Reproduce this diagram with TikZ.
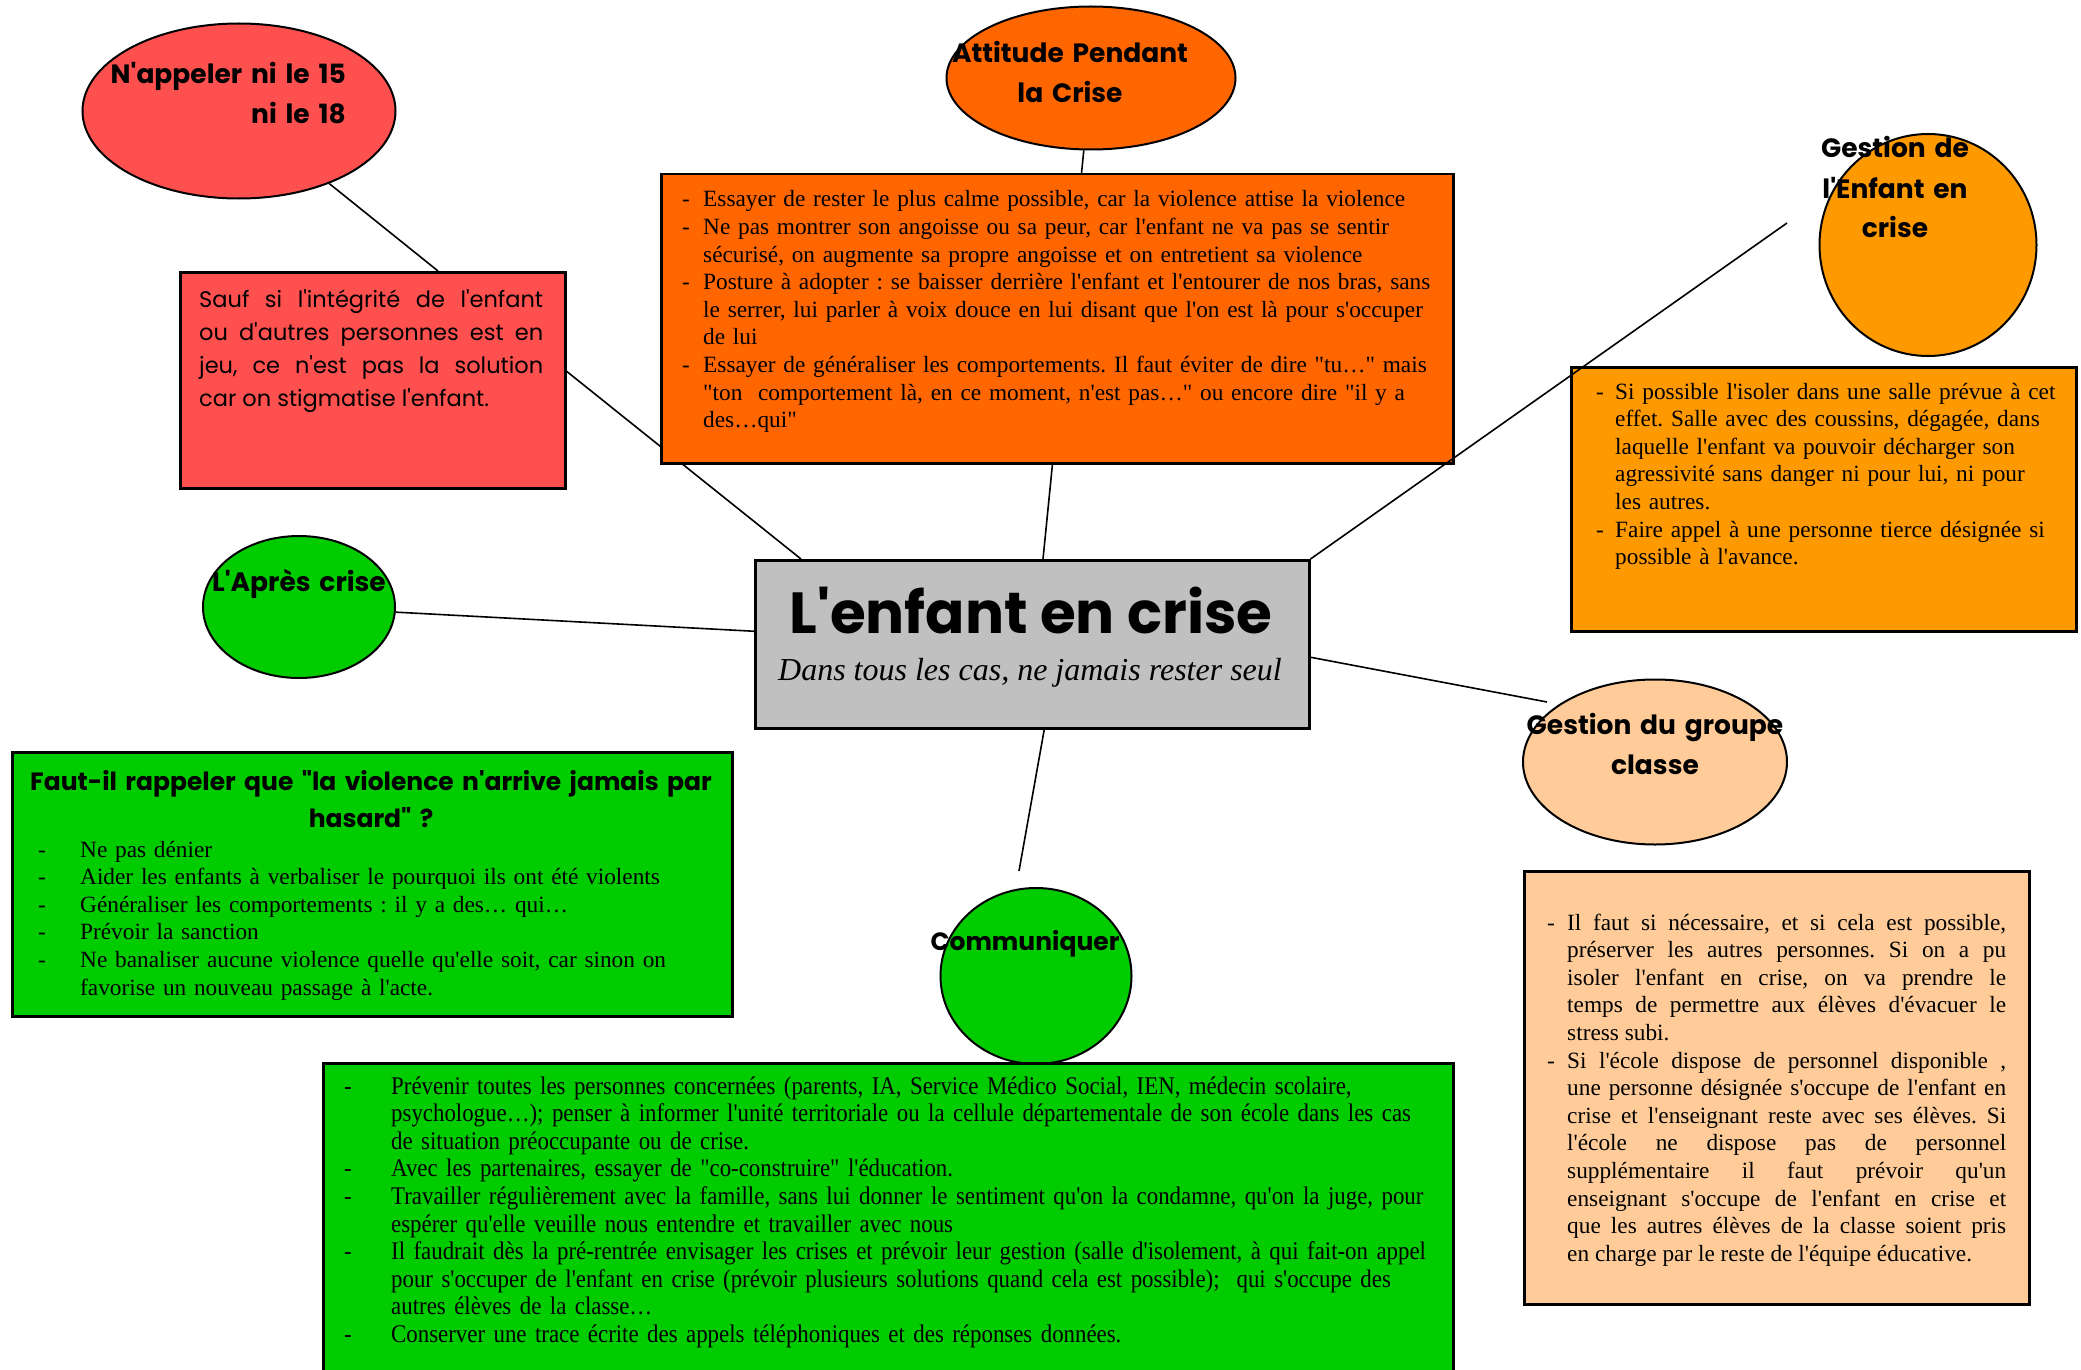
\documentclass[tikz,border=0pt]{standalone}
\usepackage{fontspec}
\newfontfamily\tnr{Liberation Serif}
\newfontfamily\tnrc{Liberation Serif}[FakeStretch=0.9]
\newfontfamily\comic{Poppins}
\usetikzlibrary{calc,shapes.geometric}
\pgfdeclarelayer{bg}
\pgfsetlayers{bg,main}
\definecolor{cred}{HTML}{FF5050}
\definecolor{corange}{HTML}{FF6600}
\definecolor{corangeb}{HTML}{FF9900}
\definecolor{cgreen}{HTML}{00CC00}
\definecolor{cpeach}{HTML}{FFCC99}
\definecolor{cgray}{HTML}{C0C0C0}
\newcommand\dashit[2]{\noindent\hangindent=#1\hangafter=1\makebox[#1][l]{-}#2\par}
\tikzset{
  box/.style={draw=black, line width=2.5pt, inner sep=0pt, anchor=north west},
  oval/.style={ellipse, draw=black, line width=2pt, inner sep=0pt},
  conn/.style={line width=1.6pt, draw=black},
  hd/.style={font=\comic\bfseries\fontsize{26.5}{40}\selectfont, inner sep=0pt, anchor=base, align=center, text width=#1},
  body/.style={font=\tnr\frenchspacing\fontsize{23.3}{27.6}\selectfont, inner sep=0pt, anchor=base west, align=left, text width=#1},
}
\begin{document}
\begin{tikzpicture}[x=1pt,y=-1pt]
\useasboundingbox (0,0) rectangle (2081,1370);
\clip (0,0) rectangle (2081,1370);
% shapes
\node[oval, fill=cred, minimum width=313pt, minimum height=175pt] (e1) at (239,111) {};
\node[box, fill=cred, minimum width=385pt, minimum height=216pt] (b1) at (179,271) {};
\node[oval, fill=corange, minimum width=289pt, minimum height=143pt] (e2) at (1091,78) {};
\node[box, fill=corange, minimum width=792pt, minimum height=289pt] (b2) at (660,173) {};
\node[oval, fill=corangeb, minimum width=217pt, minimum height=222pt] (e3) at (1928,245) {};
\node[box, fill=corangeb, minimum width=505pt, minimum height=264pt] (b3) at (1570,366) {};
\node[box, fill=cgray, minimum width=554pt, minimum height=168pt] (c) at (754,559) {};
\node[oval, fill=cgreen, minimum width=192pt, minimum height=142pt] (e4) at (299,607) {};
\node[box, fill=cgreen, minimum width=720pt, minimum height=264pt] (b4) at (11,751) {};
\node[oval, fill=cpeach, minimum width=264pt, minimum height=165pt] (e5) at (1655,762) {};
\node[box, fill=cpeach, minimum width=505pt, minimum height=433pt] (b5) at (1523,870) {};
\node[oval, fill=cgreen, minimum width=191pt, minimum height=176pt] (e6) at (1036,976) {};
\node[box, fill=cgreen, minimum width=1130pt, minimum height=360pt] (b6) at (322,1062) {};
% free ends
\coordinate (g1end) at (1787,223);
\coordinate (g2end) at (1547,702);
\coordinate (g3end) at (1019,871);
% connectors
\begin{pgfonlayer}{bg}
\draw[conn] (e1) -- ($(b1.north west)+(259,0)$);
\draw[conn] ($(b1.east)+(0,-9)$) -- ($(c.north west)+(47,0)$);
\draw[conn] (e2) -- ($(c.north west)+(289,0)$);
\draw[conn] (e4) -- ($(c.west)+(0,-13)$);
\draw[conn] ($(c.east)+(0,13)$) -- (g2end);
\draw[conn] ($(c.south)+(12,0)$) -- (g3end);
\end{pgfonlayer}
\draw[conn] (c.north east) -- (g1end);
% headings
\node[hd=320pt, anchor=base east, align=right] (t1) at (346,84) {N'appeler ni le 15\\ni le 18};
\node[hd=320pt] (t2) at (1070,63) {Attitude Pendant\\la Crise};
\node[hd=260pt] (t3) at (1895,158) {Gestion de\\l'Enfant en\\crise};
\node[hd=260pt] (t4) at (299,591) {L'Après crise};
\node[hd=320pt] (t5) at (1655,734) {Gestion du groupe\\classe};
\node[hd=260pt, font=\comic\bfseries\fontsize{25}{40}\selectfont] (t6) at (1025,950) {Communiquer};
% center
\node[font=\comic\bfseries\fontsize{58}{66}\selectfont, inner sep=0pt, anchor=base] (title) at (1031,633) {L'enfant en crise};
\node[font=\tnr\itshape\fontsize{32}{38}\selectfont, inner sep=0pt, anchor=base] (sub) at (1030,680) {Dans tous les cas, ne jamais rester seul};
% red box text
\node[font=\comic\frenchspacing\fontsize{22.5}{33}\selectfont, inner sep=0pt, anchor=base west, align=justify, text width=344pt] (tb1) at (199,307) {Sauf si l'intégrité de l'enfant\linebreak ou d'autres personnes est en\linebreak jeu, ce n'est pas la solution\linebreak car on stigmatise l'enfant.};
% orange box text
\node[body=770pt] (tb2) at (682,207) {%
\dashit{21pt}{Essayer de rester le plus calme possible, car la violence attise la violence}%
\dashit{21pt}{Ne pas montrer son angoisse ou sa peur, car l'enfant ne va pas se sentir\newline sécurisé, on augmente sa propre angoisse et on entretient sa violence}%
\dashit{21pt}{Posture à adopter : se baisser derrière l'enfant et l'entourer de nos bras, sans\newline le serrer, lui parler à voix douce en lui disant que l'on est là pour s'occuper\newline de lui}%
\dashit{21pt}{Essayer de généraliser les comportements. Il faut éviter de dire "tu…" mais\newline "ton\ \ comportement là, en ce moment, n'est pas…" ou encore dire "il y a\newline des…qui"}};
% orange box 2 text
\node[body=480pt] (tb3) at (1596,399) {%
\dashit{19pt}{Si possible l'isoler dans une salle prévue à cet\newline effet. Salle avec des coussins, dégagée, dans\newline laquelle l'enfant va pouvoir décharger son\newline agressivité sans danger ni pour lui, ni pour\newline les autres.}%
\dashit{19pt}{Faire appel à une personne tierce désignée si\newline possible à l'avance.}};
% green box (apres)
\node[hd=710pt, font=\comic\bfseries\fontsize{25}{37}\selectfont] (th4) at (371,790) {Faut-il rappeler que "la violence n'arrive jamais par\\hasard" ?};
\node[body=690pt] (tb4) at (38,857) {%
\dashit{42pt}{Ne pas dénier}%
\dashit{42pt}{Aider les enfants à verbaliser le pourquoi ils ont été violents}%
\dashit{42pt}{Généraliser les comportements : il y a des… qui…}%
\dashit{42pt}{Prévoir la sanction}%
\dashit{42pt}{Ne banaliser aucune violence quelle qu'elle soit, car sinon on\newline favorise un nouveau passage à l'acte.}};
% peach box text
\node[body=459pt, align=justify] (tb5) at (1547,930) {%
\dashit{20pt}{Il faut si nécessaire, et si cela est possible,\linebreak préserver les autres personnes. Si on a pu\linebreak isoler l'enfant en crise, on va prendre le\linebreak temps de permettre aux élèves d'évacuer le\linebreak stress subi.}%
\dashit{20pt}{Si l'école dispose de personnel disponible ,\linebreak une personne désignée s'occupe de l'enfant en\linebreak crise et l'enseignant reste avec ses élèves. Si\linebreak l'école ne dispose pas de personnel\linebreak supplémentaire il faut prévoir qu'un\linebreak enseignant s'occupe de l'enfant en crise et\linebreak que les autres élèves de la classe soient pris\linebreak en charge par le reste de l'équipe éducative.}};
% bottom green box text
\node[body=1100pt, font=\tnrc\frenchspacing\fontsize{25.4}{27.6}\selectfont] (tb6) at (344,1094) {%
\dashit{47pt}{Prévenir toutes les personnes concernées (parents, IA, Service Médico Social, IEN, médecin scolaire,\newline psychologue…); penser à informer l'unité territoriale ou la cellule départementale de son école dans les cas\newline de situation préoccupante ou de crise.}%
\dashit{47pt}{Avec les partenaires, essayer de "co-construire" l'éducation.}%
\dashit{47pt}{Travailler régulièrement avec la famille, sans lui donner le sentiment qu'on la condamne, qu'on la juge, pour\newline espérer qu'elle veuille nous entendre et travailler avec nous}%
\dashit{47pt}{Il faudrait dès la pré-rentrée envisager les crises et prévoir leur gestion (salle d'isolement, à qui fait-on appel\newline pour s'occuper de l'enfant en crise (prévoir plusieurs solutions quand cela est possible);\ \ qui s'occupe des\newline autres élèves de la classe…}%
\dashit{47pt}{Conserver une trace écrite des appels téléphoniques et des réponses données.}};
\end{tikzpicture}
\end{document}
